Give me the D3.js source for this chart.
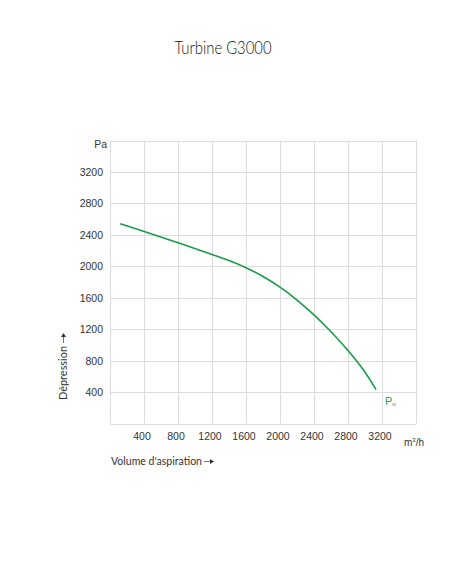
<!DOCTYPE html>
<html><head><meta charset="utf-8">
<script src="https://cdn.jsdelivr.net/npm/d3@7"></script>
<style>body{margin:0;background:#fff;}svg{display:block;}</style>
</head><body>
<script>
const flow = [120, 400, 800, 1200, 1400, 1600, 1800, 2000, 2200, 2400, 2600, 2800, 3000, 3130];
const pressure = [2540, 2445, 2300, 2150, 2075, 1985, 1875, 1740, 1575, 1385, 1170, 935, 665, 430];
const xTicks = [400, 800, 1200, 1600, 2000, 2400, 2800, 3200];
const yTicks = [400, 800, 1200, 1600, 2000, 2400, 2800, 3200];
const title = "Turbine G3000";
const xLabel = "Volume d'aspiration";
const yLabel = "Dépression";

const W = 452, H = 584;
const svg = d3.select("body").append("svg").attr("width", W).attr("height", H);
const x = d3.scaleLinear().domain([0, 3600]).range([110, 416]);
const y = d3.scaleLinear().domain([0, 3600]).range([423.5, 140.5]);

const grid = svg.append("g").attr("stroke", "#dcdcdc").attr("stroke-width", 1);
const xg = [0, ...xTicks, 3600];
grid.selectAll("line.v").data(xg).join("line")
  .attr("x1", d => Math.round(x(d)) + 0.5).attr("x2", d => Math.round(x(d)) + 0.5)
  .attr("y1", y(3600)).attr("y2", y(0));
const yg = [0, ...yTicks, 3600];
grid.selectAll("line.h").data(yg).join("line")
  .attr("y1", d => Math.round(y(d)) + 0.5).attr("y2", d => Math.round(y(d)) + 0.5)
  .attr("x1", x(0)).attr("x2", x(3600));

const tickFont = "'Liberation Sans', Arial, sans-serif";
svg.append("g").selectAll("text").data(xTicks).join("text")
  .attr("x", d => x(d) - 2).attr("y", 440)
  .attr("text-anchor", "middle").attr("font-family", tickFont).attr("font-size", 10.5)
  .attr("fill", "#333").text(d => d);
svg.append("g").selectAll("text").data(yTicks).join("text")
  .attr("x", 103).attr("y", d => y(d) + 4)
  .attr("text-anchor", "end").attr("font-family", tickFont).attr("font-size", 10.5)
  .attr("fill", "#333").text(d => d);
svg.append("text").attr("x", 107).attr("y", 148).attr("text-anchor", "end")
  .attr("font-family", tickFont).attr("font-size", 10.5).attr("fill", "#333").text("Pa");
const u = svg.append("text").attr("x", 404).attr("y", 446)
  .attr("font-family", tickFont).attr("font-size", 10).attr("fill", "#333");
u.append("tspan").text("m");
u.append("tspan").attr("font-size", 6).attr("dy", -4).text("3");
u.append("tspan").attr("dy", 4).text("/h");

const line = d3.line().x((d, i) => x(flow[i])).y(d => y(d)).curve(d3.curveBasis);
svg.append("path").datum(pressure).attr("d", line)
  .attr("fill", "none").attr("stroke", "#1a9a48").attr("stroke-width", 1.6);

const p = svg.append("text").attr("x", 385).attr("y", 405)
  .attr("font-family", tickFont).attr("font-size", 11).attr("fill", "#22a050");
p.append("tspan").text("P");
p.append("tspan").attr("font-size", 4.5).attr("dy", 1).text("st");

const lightFont = "Lato, 'Open Sans', sans-serif";
svg.append("text").attr("x", 223).attr("y", 54).attr("text-anchor", "middle")
  .attr("font-family", lightFont).attr("font-weight", 300).attr("font-size", 17)
  .attr("textLength", 97).attr("lengthAdjust", "spacingAndGlyphs")
  .attr("fill", "#111").text(title);

svg.append("text").attr("x", 111).attr("y", 465)
  .attr("font-family", lightFont).attr("font-weight", 400).attr("font-size", 11.5)
  .attr("textLength", 91).attr("lengthAdjust", "spacingAndGlyphs")
  .attr("fill", "#333").text(xLabel);
const xe = 111 + 91;
svg.append("line").attr("x1", xe + 2).attr("x2", xe + 8).attr("y1", 461.5).attr("y2", 461.5)
  .attr("stroke", "#555").attr("stroke-width", 0.8);
svg.append("path").attr("d", `M${xe + 8},459 L${xe + 12},461.5 L${xe + 8},464 Z`).attr("fill", "#333");

svg.append("text").attr("transform", "translate(67,400) rotate(-90)")
  .attr("font-family", lightFont).attr("font-weight", 400).attr("font-size", 11.5)
  .attr("textLength", 54).attr("lengthAdjust", "spacingAndGlyphs")
  .attr("fill", "#333").text(yLabel);
const ye = 400 - 54;
svg.append("line").attr("x1", 63.5).attr("x2", 63.5).attr("y1", ye - 3).attr("y2", ye - 9)
  .attr("stroke", "#555").attr("stroke-width", 0.8);
svg.append("path").attr("d", `M61,${ye - 9} L63.5,${ye - 13} L66,${ye - 9} Z`).attr("fill", "#333");
</script>
</body></html>
